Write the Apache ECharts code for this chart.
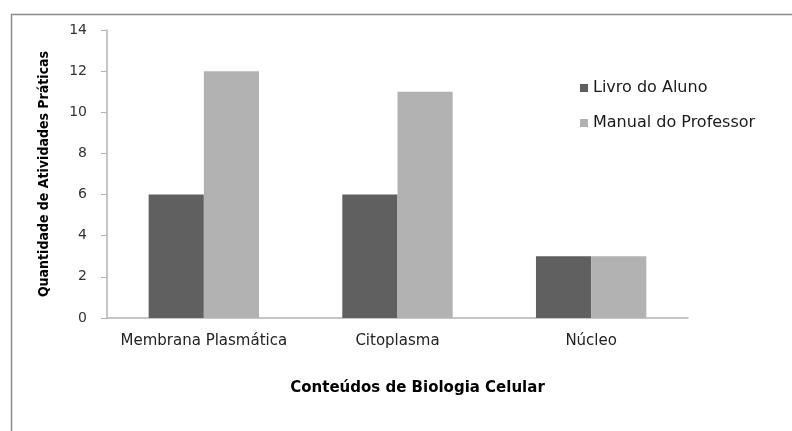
<!DOCTYPE html>
<html>
<head>
<meta charset="utf-8">
<script src="https://cdn.jsdelivr.net/npm/echarts@6/dist/echarts.min.js"></script>
<style>
html, body { margin: 0; padding: 0; background: #fff; }
#main { width: 792px; height: 431px; }
</style>
</head>
<body>
<div id="main"></div>
<script>
var categories = ['Membrana Plasmática', 'Citoplasma', 'Núcleo'];
var livroAluno = [6, 6, 3];
var manualProfessor = [12, 11, 3];
var yTicks = { min: 0, max: 14, interval: 2 };

var myChart = echarts.init(document.getElementById('main'));

myChart.setOption({
    animation: false,
    textStyle: { fontFamily: 'DejaVu Sans' },
    graphic: [{
        type: 'rect',
        left: 9,
        top: 12,
        shape: { width: 900, height: 600 },
        style: { fill: 'none', stroke: '#8c8c8c', lineWidth: 1.5 },
        silent: true
    }],
    grid: { left: 107, right: 104, top: 30, bottom: 113 },
    legend: {
        orient: 'vertical',
        left: 575,
        top: 75,
        itemWidth: 8,
        itemHeight: 8,
        itemGap: 19,
        icon: 'rect',
        textStyle: { fontSize: 16, color: '#1a1a1a', fontFamily: 'DejaVu Sans' },
        data: ['Livro do Aluno', 'Manual do Professor']
    },
    xAxis: {
        type: 'category',
        data: categories,
        name: 'Conteúdos de Biologia Celular',
        nameLocation: 'middle',
        nameGap: 63,
        nameTextStyle: { fontWeight: 'bold', fontSize: 15, color: '#000', padding: [0, 0, 0, 40] },
        axisLine: { lineStyle: { color: '#b4b4b4', width: 1.5 } },
        axisTick: { show: false },
        axisLabel: { interval: 0, fontSize: 15, color: '#222', margin: 16 }
    },
    yAxis: {
        type: 'value',
        min: yTicks.min,
        max: yTicks.max,
        interval: yTicks.interval,
        name: 'Quantidade de Atividades Práticas',
        nameLocation: 'middle',
        nameGap: 56,
        nameTextStyle: { fontWeight: 'bold', fontSize: 14, color: '#000', fontFamily: 'DejaVu Sans Condensed' },
        splitLine: { show: false },
        axisLine: { show: true, lineStyle: { color: '#b4b4b4', width: 1.5 } },
        axisTick: { show: true, length: 6, lineStyle: { color: '#b4b4b4' } },
        axisLabel: { fontSize: 14, color: '#333', margin: 20 }
    },
    series: [{
        name: 'Livro do Aluno',
        type: 'bar',
        data: livroAluno,
        barGap: '0%',
        barCategoryGap: '43%',
        itemStyle: { color: '#606060' }
    }, {
        name: 'Manual do Professor',
        type: 'bar',
        data: manualProfessor,
        itemStyle: { color: '#b2b2b2' }
    }]
});
</script>
</body>
</html>
